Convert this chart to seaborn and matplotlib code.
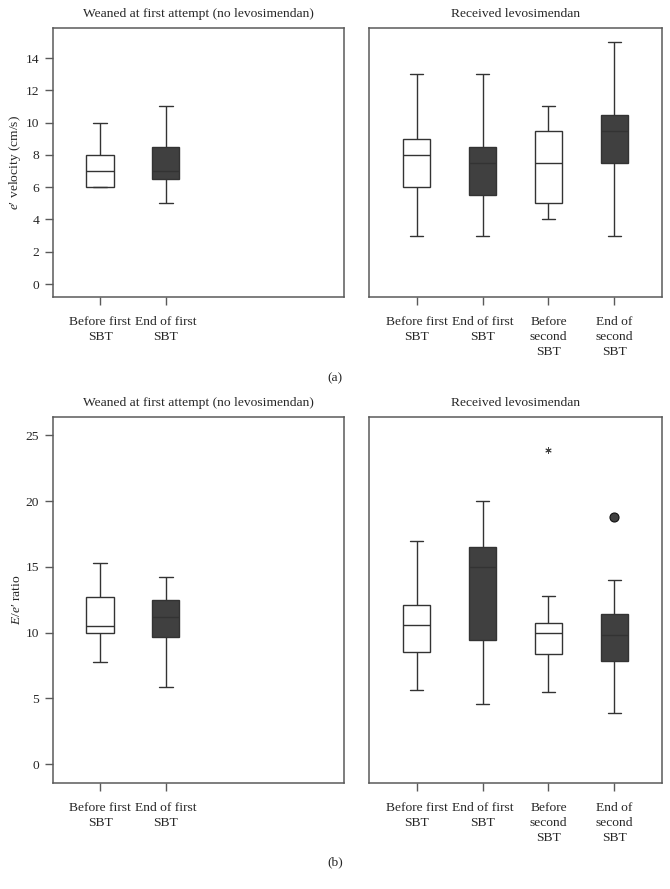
import numpy as np
import pandas as pd
import matplotlib
matplotlib.use("Agg")
import matplotlib.pyplot as plt
import seaborn as sns

# ---------------- data ----------------
cats_nolevo = ["Before first\nSBT", "End of first\nSBT"]
cats_levo = ["Before first\nSBT", "End of first\nSBT", "Before\nsecond\nSBT", "End of\nsecond\nSBT"]

# e' velocity (cm/s) – five-number summaries
ev_nolevo_lo = [6, 5]
ev_nolevo_q1 = [6, 6.5]
ev_nolevo_med = [7, 7]
ev_nolevo_q3 = [8, 8.5]
ev_nolevo_hi = [10, 11]

ev_levo_lo = [3, 3, 4, 3]
ev_levo_q1 = [6, 5.5, 5, 7.5]
ev_levo_med = [8, 7.5, 7.5, 9.5]
ev_levo_q3 = [9, 8.5, 9.5, 10.5]
ev_levo_hi = [13, 13, 11, 15]

# E/e' ratio
ee_nolevo_lo = [7.8, 5.9]
ee_nolevo_q1 = [10.0, 9.7]
ee_nolevo_med = [10.5, 11.2]
ee_nolevo_q3 = [12.7, 12.5]
ee_nolevo_hi = [15.3, 14.2]

ee_levo_lo = [5.6, 4.6, 5.5, 3.9]
ee_levo_q1 = [8.5, 9.4, 8.35, 7.85]
ee_levo_med = [10.6, 15.0, 10.0, 9.85]
ee_levo_q3 = [12.1, 16.5, 10.75, 11.4]
ee_levo_hi = [17.0, 20.0, 12.8, 14.0]

# outliers (category, value)
ee_levo_extreme_cat = ["Before\nsecond\nSBT"]
ee_levo_extreme_val = [23.9]
ee_levo_mild_cat = ["End of\nsecond\nSBT"]
ee_levo_mild_val = [18.8]

# ---------------- style ----------------
sns.set_style("white")
plt.rcParams["font.family"] = ["Liberation Serif", "DejaVu Serif"]
plt.rcParams["mathtext.fontset"] = "custom"
plt.rcParams["mathtext.rm"] = "Liberation Serif"
plt.rcParams["mathtext.it"] = "Liberation Serif:italic"

WHITE = "#ffffff"
DARK = "#404040"
LINE = "#333333"
SPINE = "#5a5a5a"
FS = 9.7


def long_df(cats, lo, q1, med, q3, hi):
    rows = []
    for c, a, b, m, d, e in zip(cats, lo, q1, med, q3, hi):
        for v in (a, b, m, d, e):
            rows.append({"cat": c, "val": v})
    return pd.DataFrame(rows)


fig = plt.figure(figsize=(6.70, 8.89), dpi=100)

W, H = 670.0, 889.0


def make_ax(x0, y0, x1, y1):
    return fig.add_axes([x0 / W, 1 - y1 / H, (x1 - x0) / W, (y1 - y0) / H])


ax_tl = make_ax(53, 28, 344, 297)
ax_tr = make_ax(369, 28, 662, 297)
ax_bl = make_ax(53, 417, 344, 783)
ax_br = make_ax(369, 417, 662, 783)

panels = [
    (ax_tl, cats_nolevo, (ev_nolevo_lo, ev_nolevo_q1, ev_nolevo_med, ev_nolevo_q3, ev_nolevo_hi)),
    (ax_tr, cats_levo, (ev_levo_lo, ev_levo_q1, ev_levo_med, ev_levo_q3, ev_levo_hi)),
    (ax_bl, cats_nolevo, (ee_nolevo_lo, ee_nolevo_q1, ee_nolevo_med, ee_nolevo_q3, ee_nolevo_hi)),
    (ax_br, cats_levo, (ee_levo_lo, ee_levo_q1, ee_levo_med, ee_levo_q3, ee_levo_hi)),
]

for ax, cats, stats in panels:
    df = long_df(cats, *stats)
    pal = {c: (WHITE if i % 2 == 0 else DARK) for i, c in enumerate(cats)}
    sns.boxplot(data=df, x="cat", y="val", hue="cat", order=cats, hue_order=cats,
                palette=pal, whis=(0, 100), width=0.42, linecolor=LINE,
                linewidth=1.0, legend=False, saturation=1, ax=ax)

# outliers in E/e' levosimendan panel
sns.stripplot(x=ee_levo_extreme_cat, y=ee_levo_extreme_val, order=cats_levo,
              jitter=False, marker=(6, 2, 0), s=4, color="#444444",
              linewidth=0.7, edgecolor="#444444", ax=ax_br)
sns.stripplot(x=ee_levo_mild_cat, y=ee_levo_mild_val, order=cats_levo,
              jitter=False, marker="o", s=6.5, color=DARK,
              linewidth=0.8, edgecolor="#111111", ax=ax_br)

for ax in (ax_tl, ax_tr, ax_bl, ax_br):
    ax.set_xlim(-0.72, 3.72)
    ax.set_xlabel("")
    ax.set_ylabel("")
    for s in ax.spines.values():
        s.set_visible(True)
        s.set_color(SPINE)
        s.set_linewidth(1.1)
    ax.tick_params(axis="x", direction="out", length=6, width=1.0, color=SPINE,
                   labelsize=FS, pad=8, bottom=True)
    ax.tick_params(axis="y", direction="out", length=6, width=1.0, color=SPINE,
                   labelsize=FS, left=True, pad=4)

for ax in (ax_tl, ax_tr):
    ax.set_ylim(-0.8, 15.86)
for ax in (ax_bl, ax_br):
    ax.set_ylim(-1.44, 26.4)

ax_tl.set_yticks(np.arange(0, 15, 2))
ax_bl.set_yticks(np.arange(0, 26, 5))
for ax in (ax_tr, ax_br):
    ax.set_yticks([])
    ax.tick_params(axis="y", left=False, labelleft=False)

for ax, cats in ((ax_tl, cats_nolevo), (ax_bl, cats_nolevo), (ax_tr, cats_levo), (ax_br, cats_levo)):
    ax.set_xticks(range(len(cats)))
    ax.set_xticklabels(cats, fontsize=FS, linespacing=1.3)

ax_tl.set_ylabel("$e$\u2032 velocity (cm/s)", fontsize=FS, labelpad=2)
ax_bl.set_ylabel("$E$/$e$\u2032 ratio", fontsize=FS, labelpad=2)

for ax in (ax_tl, ax_bl):
    ax.set_title("Weaned at first attempt (no levosimendan)", fontsize=FS, pad=8)
for ax in (ax_tr, ax_br):
    ax.set_title("Received levosimendan", fontsize=FS, pad=8)

fig.text(335 / W, 1 - 378 / H, "(a)", fontsize=FS, ha="center", va="center")
fig.text(335 / W, 1 - 862 / H, "(b)", fontsize=FS, ha="center", va="center")

fig.savefig("out.png", dpi=100, facecolor="white")
